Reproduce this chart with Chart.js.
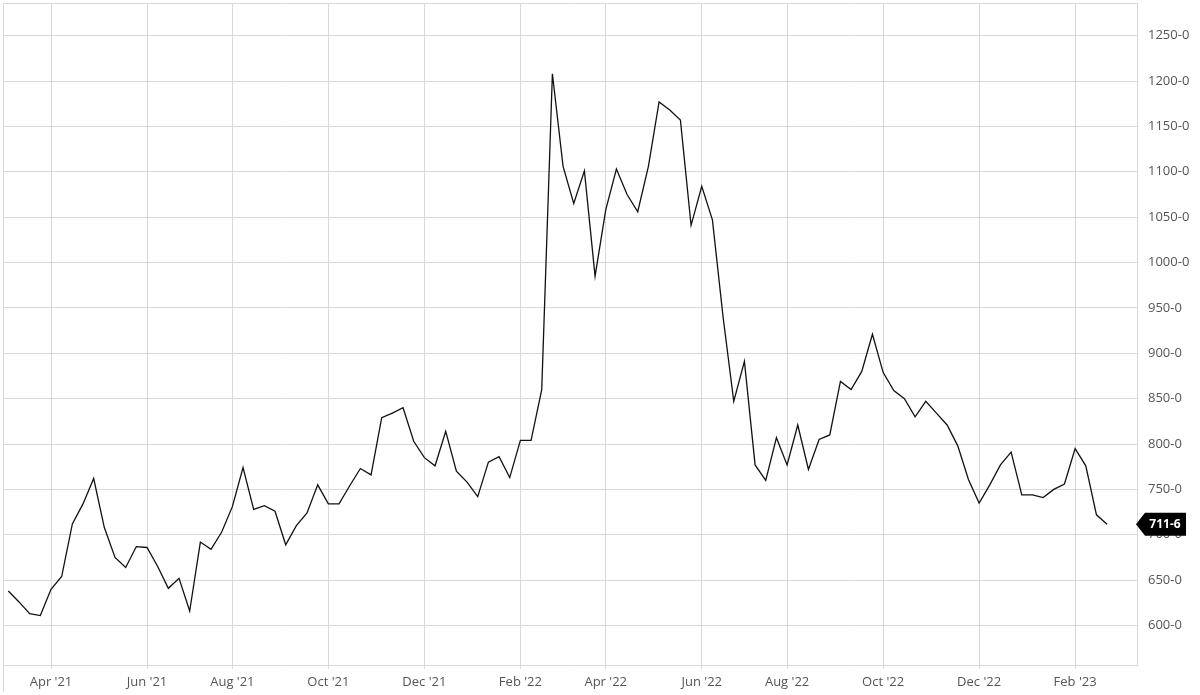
<!DOCTYPE html>
<html lang="en">
  <head>
    <meta charset="UTF-8" />
    <title>Weekly price</title>
    <script src="https://cdn.jsdelivr.net/npm/chart.js@4/dist/chart.umd.min.js"></script>
    <style>
      html, body { margin: 0; padding: 0; background: #fff; }
      #wrap { width: 1200px; height: 695px; position: relative; }
    </style>
  </head>
  <body>
    <div id="wrap"><canvas id="price-chart"></canvas></div>

    <script>
      // weekly closes, first week = Mon 8 Mar 2021
      const startDate = "2021-03-08";
      const closes = [
        638, 626, 613, 611, 640, 654, 712, 734, 762, 708,
        675, 664, 687, 686, 665, 641, 652, 616, 692, 684,
        703, 731, 774, 728, 732, 726, 689, 710, 724, 755,
        734, 734, 754, 773, 766, 829, 834, 840, 803, 785,
        776, 814, 770, 758, 742, 780, 786, 763, 804, 804,
        860, 1208, 1106, 1065, 1101, 985, 1058, 1103, 1075, 1056,
        1106, 1177, 1168, 1157, 1041, 1084, 1047, 940, 847, 891,
        777, 760, 807, 777, 821, 772, 805, 810, 869, 860,
        880, 921, 879, 859, 850, 830, 847, 834, 821, 798,
        761, 735, 755, 777, 791, 744, 744, 741, 750, 756,
        795, 776, 722, 711.6
      ];
      const monthTicks = [
        "Apr '21", "Jun '21", "Aug '21", "Oct '21", "Dec '21", "Feb '22",
        "Apr '22", "Jun '22", "Aug '22", "Oct '22", "Dec '22", "Feb '23"
      ];
      const priceTicks = [600, 650, 700, 750, 800, 850, 900, 950, 1000, 1050, 1100, 1150, 1200, 1250];

      const monthNames = ["Jan", "Feb", "Mar", "Apr", "May", "Jun", "Jul", "Aug", "Sep", "Oct", "Nov", "Dec"];

      // one date per week, same length as closes
      const weeks = closes.map(function (v, i) {
        let d = new Date(startDate + "T00:00:00Z");
        d.setUTCDate(d.getUTCDate() + 7 * i);
        return d;
      });
      function monthLabel(d) {
        return monthNames[d.getUTCMonth()] + " '" + String(d.getUTCFullYear()).slice(2);
      }
      // tick at the first week of each labelled month
      const tickIndex = monthTicks.map(function (lbl) {
        return weeks.findIndex(function (d) { return monthLabel(d) === lbl; });
      });

      const fmt = function (v) { return v.toFixed(1).replace(".", "-"); };
      const gridColor = "#d9d9d9";
      const textColor = "#555";

      // frame on top / left, and the last-price flag on the right axis
      const extras = {
        id: "extras",
        afterDraw(chart) {
          const c = chart.ctx;
          const a = chart.chartArea;
          c.save();
          c.strokeStyle = gridColor;
          c.lineWidth = 1;
          c.beginPath();
          c.moveTo(a.left + 0.5, a.top + 0.5);
          c.lineTo(a.right, a.top + 0.5);
          c.moveTo(a.left + 0.5, a.top);
          c.lineTo(a.left + 0.5, chart.height - 3);
          c.stroke();

          const last = closes[closes.length - 1];
          const y = chart.scales.y.getPixelForValue(last);
          const x0 = a.right - 1;
          const h = 11.5;
          c.fillStyle = "#000";
          c.beginPath();
          c.moveTo(x0, y);
          c.lineTo(x0 + 9, y - h);
          c.lineTo(x0 + 50, y - h);
          c.lineTo(x0 + 50, y + h);
          c.lineTo(x0 + 9, y + h);
          c.closePath();
          c.fill();
          c.fillStyle = "#fff";
          c.font = "bold 12px 'Open Sans'";
          c.textAlign = "center";
          c.textBaseline = "middle";
          c.fillText(fmt(last), x0 + 29, y + 0.5);
          c.restore();
        },
      };

      const data = {
        datasets: [
          {
            label: "Close",
            data: closes.map(function (v, i) { return { x: i, y: v }; }),
            borderColor: "#111",
            borderWidth: 1.3,
            pointRadius: 0,
            tension: 0,
          },
        ],
      };

      const config = {
        type: "line",
        data: data,
        options: {
          animation: false,
          responsive: true,
          maintainAspectRatio: false,
          layout: { padding: { left: 3, top: 3, right: 0, bottom: 0 } },
          plugins: {
            legend: { display: false },
            tooltip: { enabled: false },
          },
          scales: {
            x: {
              type: "linear",
              bounds: "data",
              min: -0.5,
              max: 105.8,
              afterBuildTicks: function (scale) {
                scale.ticks = tickIndex.map(function (i) { return { value: i }; });
              },
              afterFit: function (scale) {
                scale.height = 30;
                scale.paddingLeft = 0;
                scale.paddingRight = 0;
              },
              ticks: {
                autoSkip: false,
                maxRotation: 0,
                padding: 5,
                color: textColor,
                font: { family: "'Open Sans'", size: 13 },
                callback: function (value) {
                  const k = tickIndex.indexOf(value);
                  return k >= 0 ? monthTicks[k] : "";
                },
              },
              grid: { color: gridColor, tickLength: 4 },
              border: { display: true, color: gridColor },
            },
            y: {
              position: "right",
              min: 556.5,
              max: 1286,
              afterBuildTicks: function (scale) {
                scale.ticks = priceTicks.map(function (v) { return { value: v }; });
              },
              afterFit: function (scale) {
                scale.width = 63;
                scale.paddingTop = 0;
                scale.paddingBottom = 0;
              },
              ticks: {
                padding: 11,
                color: textColor,
                font: { family: "'Open Sans'", size: 13 },
                callback: function (value) { return fmt(value); },
              },
              grid: { color: gridColor, drawTicks: false },
              border: { display: true, color: gridColor },
            },
          },
        },
        plugins: [extras],
      };

      const chart = new Chart(document.getElementById("price-chart"), config);
    </script>
  </body>
</html>
